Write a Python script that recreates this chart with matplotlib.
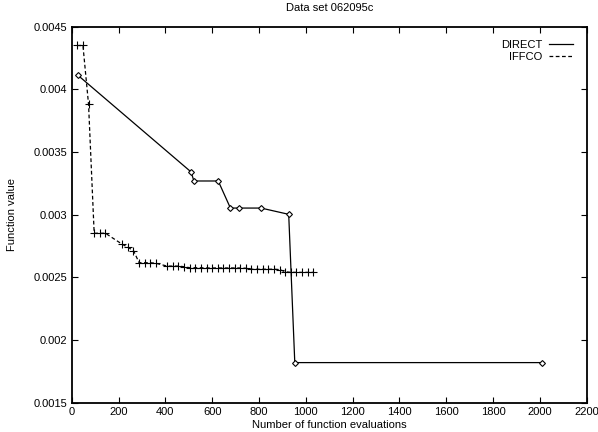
import matplotlib
matplotlib.use("Agg")
import matplotlib.pyplot as plt
from matplotlib.lines import Line2D
from matplotlib.ticker import FormatStrFormatter, MultipleLocator

plt.rcParams['font.family'] = ['Liberation Sans', 'DejaVu Sans']

# DIRECT best value against evaluations
direct_evals = [25, 510, 522, 626, 678, 713, 809, 927, 953, 2011]
direct_vals = [0.004115, 0.003341, 0.003269, 0.003269, 0.003053,
               0.003053, 0.003053, 0.003003, 0.00182, 0.00182]

# IFFCO best value against evaluations
iffco_evals = [24, 48, 72, 96, 120, 144, 216, 240, 264, 288, 312, 336, 360,
               408, 432, 456, 480, 504, 528, 552, 576, 600, 624, 648, 672,
               696, 720, 744, 768, 792, 816, 840, 864, 888, 912, 936, 960,
               984, 1008, 1032]
iffco_vals = [0.00435, 0.00435, 0.00388, 0.002852, 0.002852, 0.002852,
              0.002764, 0.00274, 0.002713, 0.002617, 0.002617, 0.002617,
              0.002612, 0.00259, 0.00259, 0.00259, 0.002585, 0.002577,
              0.002577, 0.002577, 0.002575, 0.002575, 0.002575, 0.002575,
              0.002575, 0.002575, 0.002575, 0.002573, 0.002565, 0.002565,
              0.002565, 0.002565, 0.002565, 0.002562, 0.002545, 0.00254,
              0.00254, 0.00254, 0.00254, 0.00254]

fig = plt.figure(figsize=(5.98, 4.32), dpi=100)
ax = fig.add_axes([0.1199, 0.0678, 0.8612, 0.8704])

ax.plot(direct_evals, direct_vals, color='black', lw=0.9,
        marker='D', ms=3.0, mfc='white', mec='black', mew=0.8)
ax.plot(iffco_evals, iffco_vals, color='black', lw=0.9, ls=(0, (3, 2)),
        marker='+', ms=6, mew=0.8)

ax.set_xlim(0, 2200)
ax.set_ylim(0.0015, 0.0045)
ax.xaxis.set_major_locator(MultipleLocator(200))
ax.yaxis.set_major_locator(MultipleLocator(0.0005))
ax.yaxis.set_major_formatter(FormatStrFormatter('%g'))

ax.tick_params(direction='in', length=4, width=0.8, top=True, right=True,
               labelsize=8, pad=3)
for s in ax.spines.values():
    s.set_linewidth(1.3)

ax.set_title('Data set 062095c', fontsize=8, pad=11)
ax.set_xlabel('Number of function evaluations', fontsize=8, labelpad=2)
ax.set_ylabel('Function value', fontsize=8, labelpad=12)

handles = [Line2D([], [], color='black', lw=0.9),
           Line2D([], [], color='black', lw=0.9, ls=(0, (3, 2)))]
ax.legend(handles, ['DIRECT', 'IFFCO'], loc='upper right', frameon=False,
          markerfirst=False, fontsize=8, handlelength=2.2, handletextpad=0.6,
          labelspacing=0.2, borderaxespad=0.8)

fig.savefig('out.png', dpi=100)
